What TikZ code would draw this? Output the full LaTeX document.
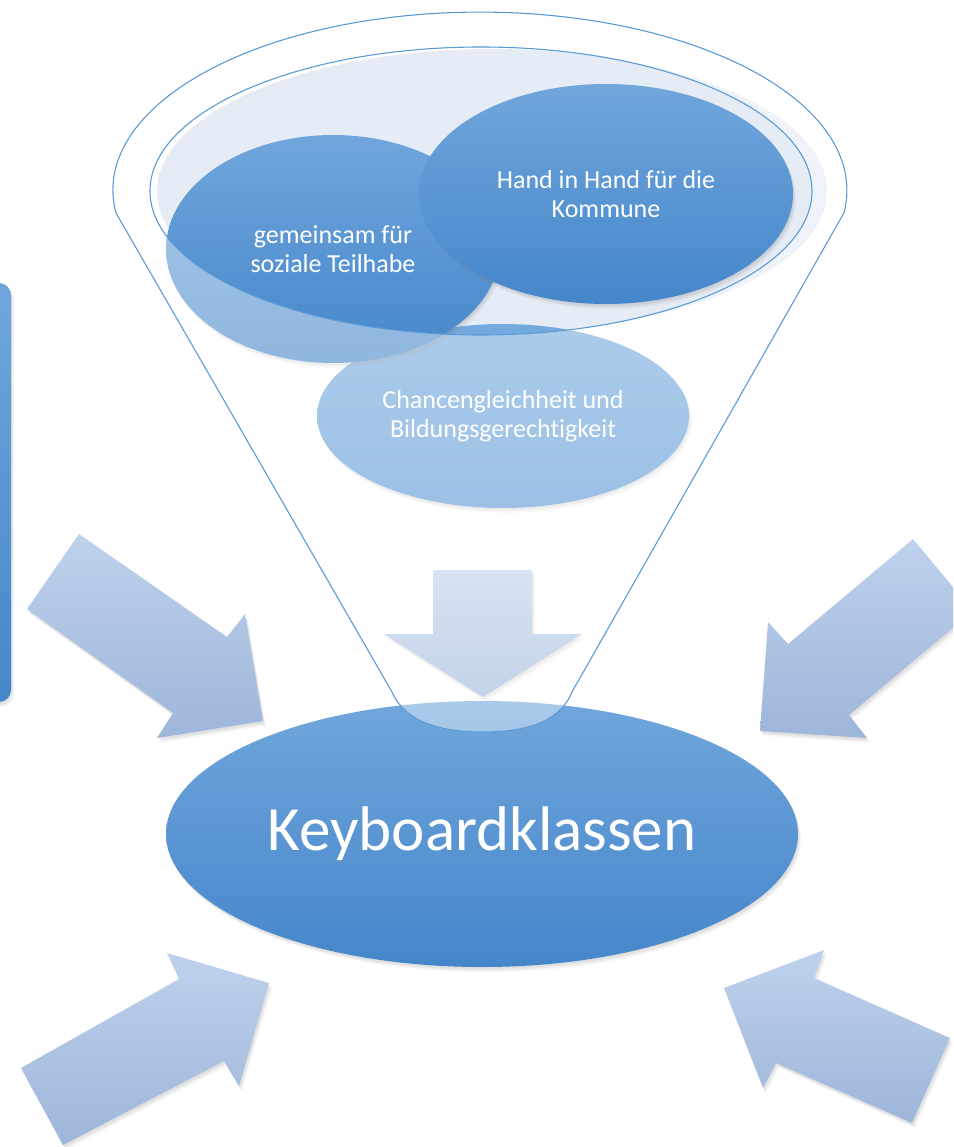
\documentclass[tikz,border=0pt]{standalone}
\usepackage{fontspec}
\setmainfont{Carlito}[Ligatures=NoCommon]
\usetikzlibrary{shapes.geometric,shadows}
\definecolor{blueTop}{HTML}{70A6DC}
\definecolor{blueBot}{HTML}{4586CA}
\definecolor{c3Top}{HTML}{74AADE}
\definecolor{c3Bot}{HTML}{5A97D5}
\definecolor{arrTop}{HTML}{BFD1EC}
\definecolor{arrBot}{HTML}{9DB6DA}
\definecolor{rimFill}{HTML}{E5ECF6}
\definecolor{rimLine}{HTML}{5B9BD5}
\begin{document}
\begin{tikzpicture}[x=1pt,y=-1pt,
  softshadow/.style={drop shadow={opacity=0.10,shadow xshift=1pt,shadow yshift=-2pt},
                     drop shadow={opacity=0.10,shadow xshift=2pt,shadow yshift=-3.5pt},
                     drop shadow={opacity=0.07,shadow xshift=3pt,shadow yshift=-5pt}},
  bigarrow/.style={top color=arrTop,bottom color=arrBot,draw=none,softshadow},
  blob/.style={ellipse,inner sep=0pt,text=white,align=center,top color=blueTop,bottom color=blueBot,softshadow},
  smalltext/.style={font=\fontsize{26}{28.5}\selectfont},
  outline/.style={draw=rimLine,line width=1.1pt},
]
\useasboundingbox (0,0) rectangle (953,1147);
\clip (0,0) rectangle (953,1147);

% left box
\path[top color=blueTop,bottom color=blueBot,rounded corners=12pt,softshadow] (-40,283) rectangle (11,702);

% main ellipse
\node[blob,minimum width=632pt,minimum height=266pt,font=\fontsize{63}{70}\selectfont] (kb) at (482,834) {Keyboardklassen};

% arrows
\path[bigarrow] (79,534) -- (227,637) -- (245,614) -- (263,721) -- (157,738) -- (173,713) -- (27,609) -- cycle;
\path[bigarrow] (913,539) -- (973,611) -- (849,715) -- (867,738) -- (760,731) -- (768,622) -- (788,644) -- cycle;
\path[bigarrow] (21,1068) -- (179,979) -- (167,953) -- (269,983) -- (239,1086) -- (224,1061) -- (63,1145) -- cycle;
\path[bigarrow] (950,1038) -- (814,978) -- (824,950) -- (724,988) -- (763,1088) -- (776,1063) -- (912,1123) -- cycle;
\path[bigarrow] (433,570) -- (532,570) -- (532,634) -- (582,634) -- (483,697) -- (384,634) -- (433,634) -- cycle;

% rim fill
\fill[rimFill] (492,191) ellipse[x radius=335,y radius=142];

% circles
\node[blob,top color=c3Top,bottom color=c3Bot,minimum width=372pt,minimum height=184pt,smalltext] (c3) at (503,416) {Chancengleichheit und\\Bildungsgerechtigkeit};
\node[blob,minimum width=334pt,minimum height=228pt,smalltext] (c1) at (333,249) {gemeinsam für\\soziale Teilhabe};
\node[blob,minimum width=374pt,minimum height=220pt,smalltext] (c2) at (606,194) {Hand in Hand für die\\Kommune};

% translucent funnel body
\fill[white,fill opacity=0.4,even odd rule]
  (116,213) arc[start angle=172.6,end angle=367.4,x radius=367,y radius=178]
  -- (572,692) .. controls (560,722) and (526,732) .. (483,732)
  .. controls (440,732) and (405,722) .. (392,692) -- cycle
  (481,191) ellipse[x radius=331,y radius=144];

% outlines
\draw[outline]
  (116,213) arc[start angle=172.6,end angle=367.4,x radius=367,y radius=178]
  -- (572,692) .. controls (560,722) and (526,732) .. (483,732)
  .. controls (440,732) and (405,722) .. (392,692) -- cycle;
\draw[outline] (481,191) ellipse[x radius=331,y radius=144];
\end{tikzpicture}
\end{document}
